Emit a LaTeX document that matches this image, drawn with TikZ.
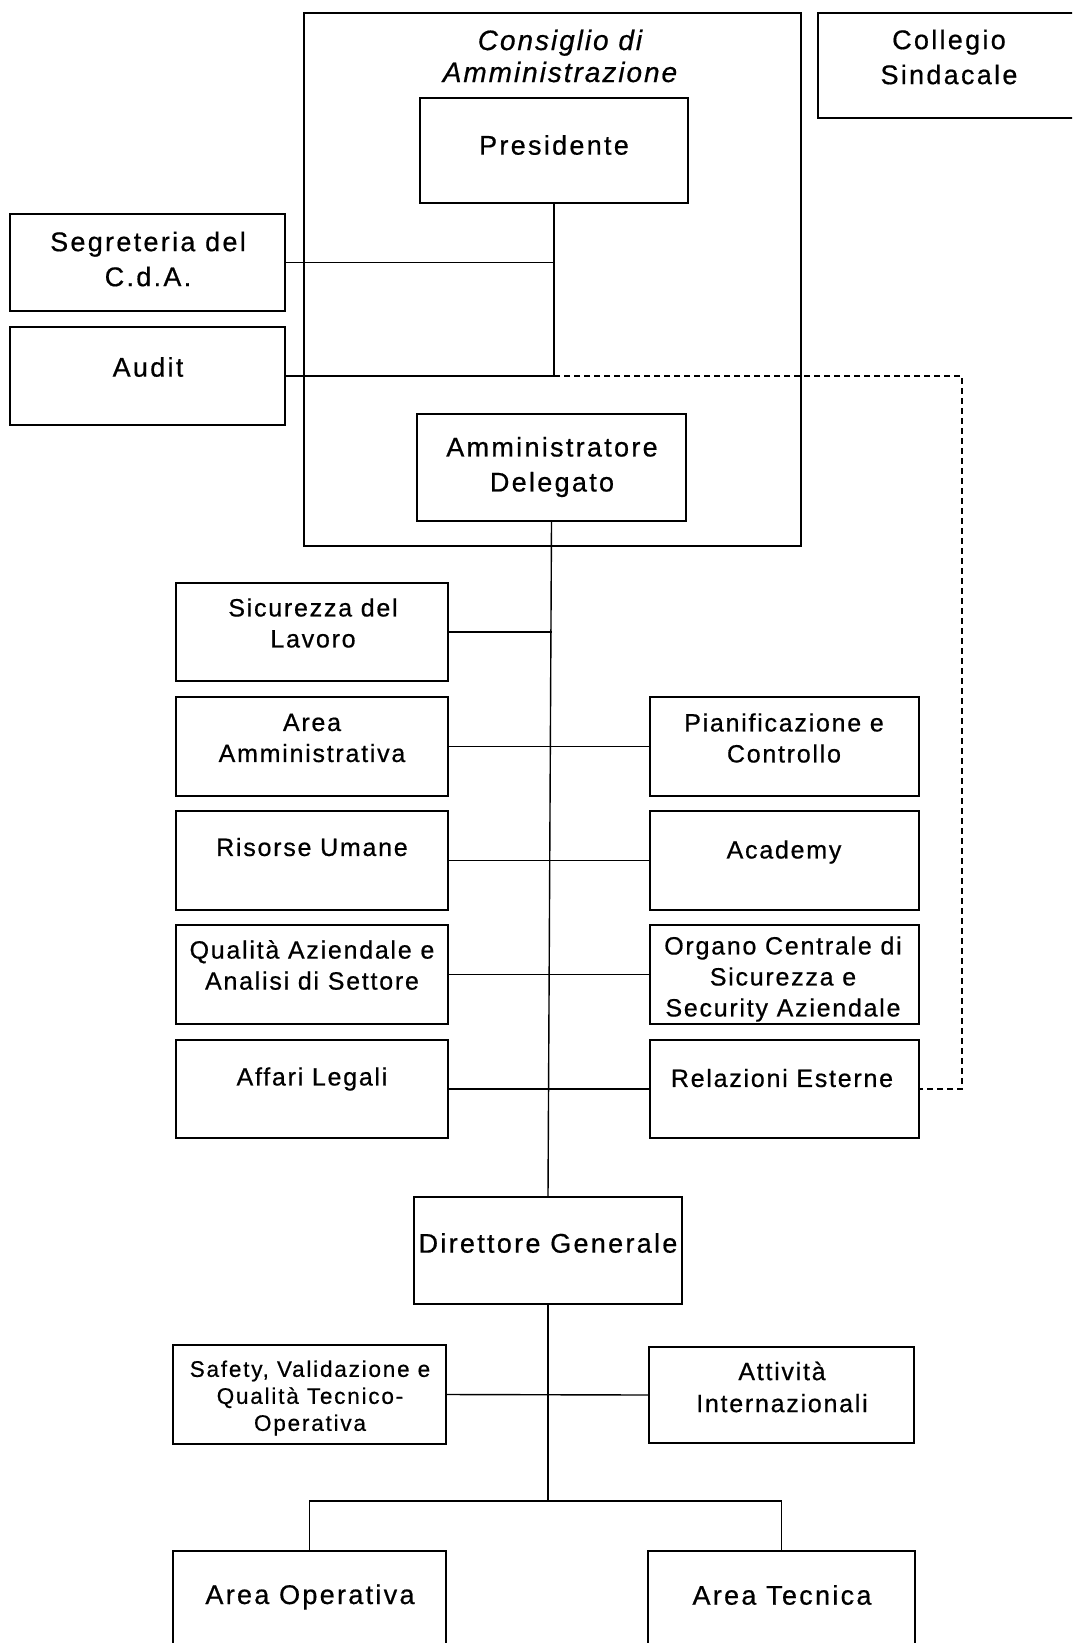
\documentclass[tikz,border=0pt]{standalone}
\usepackage{fontspec}
\setmainfont{Liberation Sans}[LetterSpace=7,FakeBold=0.6]
\newcommand\orgbox[5]{\node[box, minimum width={#4pt-#2pt}, minimum height={#5pt-#3pt}] (#1) at ({(#2+#4)/2},{(#3+#5)/2}) {};}
\begin{document}
\begin{tikzpicture}[x=1pt,y=-1pt,
  box/.style={draw, line width=1.7pt, inner sep=0pt, rectangle},
  big/.style={font=\fontsize{27}{35}\selectfont\addfontfeatures{LetterSpace=8.5}, align=center, inner sep=0pt},
  bigit/.style={font=\fontsize{28}{32}\selectfont\itshape, align=center, inner sep=0pt},
  mid/.style={font=\fontsize{25}{31}\selectfont, align=center, inner sep=0pt},
  sml/.style={font=\fontsize{22.5}{27}\selectfont\addfontfeatures{LetterSpace=8}, align=center, inner sep=0pt},
  conn/.style={line width=1.4pt},
  dline/.style={line width=1.2pt, dash pattern=on 6pt off 4pt}]
\clip (0,0) rectangle (1072,1643);
\fill[white] (0,0) rectangle (1072,1643);
% boxes
\orgbox{cda}{304}{13}{801}{546}
\orgbox{coll}{818}{13}{1090}{118}
\orgbox{pres}{420}{98}{688}{203}
\orgbox{segr}{10}{214}{285}{311}
\orgbox{audit}{10}{327}{285}{425}
\orgbox{ad}{417}{414}{686}{521}
\orgbox{sic}{176}{583}{448}{681}
\orgbox{amm}{176}{697}{448}{796}
\orgbox{ris}{176}{811}{448}{910}
\orgbox{qual}{176}{925}{448}{1024}
\orgbox{aff}{176}{1040}{448}{1138}
\orgbox{pian}{650}{697}{919}{796}
\orgbox{acad}{650}{811}{919}{910}
\orgbox{org}{650}{925}{919}{1024}
\orgbox{rel}{650}{1040}{919}{1138}
\orgbox{dg}{414}{1197}{682}{1304}
\orgbox{saf}{173}{1345}{446}{1444}
\orgbox{att}{649}{1347}{914}{1443}
\orgbox{aop}{173}{1551}{446}{1720}
\orgbox{atec}{648}{1551}{915}{1720}
% texts
\node[bigit] (cdaT) at (560,56) {Consiglio di\\Amministrazione};
\node[big] (collT) at (949,57) {Collegio\\Sindacale};
\node[big] (presT) at (554,145) {Presidente};
\node[big] (segrT) at (148,259) {Segreteria del\\C.d.A.};
\node[big] (auditT) at (148,367) {Audit};
\node[big] (adT) at (552,467) {Amministratore\\Delegato};
\node[mid] (sicT) at (313,623) {Sicurezza del\\Lavoro};
\node[mid] (ammT) at (312,738) {Area\\Amministrativa};
\node[mid] (risT) at (312,847) {Risorse Umane};
\node[mid] (qualT) at (312,965) {Qualità Aziendale e\\Analisi di Settore};
\node[mid] (affT) at (312,1079) {Affari Legali};
\node[mid] (pianT) at (784,738) {Pianificazione e\\Controllo};
\node[mid] (acadT) at (784,852) {Academy};
\node[mid] (orgT) at (783,979) {Organo Centrale di\\Sicurezza e\\Security Aziendale};
\node[mid] (relT) at (782,1078) {Relazioni Esterne};
\node[big] (dgT) at (548,1243) {Direttore Generale};
\node[sml] (safT) at (310,1398) {Safety, Validazione e\\Qualità Tecnico-\\Operativa};
\node[mid, font=\fontsize{25}{32}\selectfont] (attT) at (782,1387) {Attività\\Internazionali};
\node[big] (aopT) at (310,1597) {Area Operativa};
\node[big] (atecT) at (782,1595) {Area Tecnica};
% connectors
\coordinate (pj) at (pres.south |- audit.east);
\coordinate (dx) at (962,0);
\coordinate (br) at (548,1501);
\draw[conn] (pres.south) -- (pj);
\draw[conn] (segr.east) -- (segr.east -| pres.south);
\draw[conn] (audit.east) -- (pj);
\draw[dline] (pj) -- (pj -| dx) -- (dx |- rel.east) -- (rel.east);
\draw[conn] (ad.south) -- (dg.north);
\draw[conn] (sic.east) -- (sic.east -| ad.south);
\draw[conn] (amm.east) -- (pian.west);
\draw[conn] (ris.east) -- (acad.west);
\draw[conn] (qual.east) -- (org.west);
\draw[conn] (aff.east) -- (rel.west);
\draw[conn] (dg.south) -- (br);
\draw[conn] (saf.east) -- (att.west);
\draw[conn] (aop.north) -- (aop.north |- br) -- (atec.north |- br) -- (atec.north);
\end{tikzpicture}
\end{document}
